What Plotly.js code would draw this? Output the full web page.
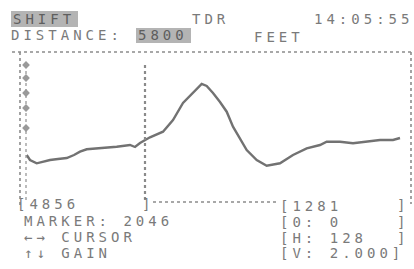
<!DOCTYPE html>
<html>
<head>
<meta charset="utf-8">
<script src="https://cdn.plot.ly/plotly-3.0.1.min.js"></script>
<style>
  html, body { margin: 0; padding: 0; background: #fff; }
  #chart { width: 414px; height: 269px; }
  .annotation-text { letter-spacing: 4px; }
</style>
</head>
<body>
<div id="chart"></div>
<script>
var sampleIdx = [6.7, 10, 16.7, 22, 30, 38, 46.7, 54, 60, 66.7, 80, 96.7, 110, 115, 120, 125, 130, 143, 153, 163, 173, 181.7, 186.7, 193, 200, 206.7, 213, 220, 226.7, 236.7, 246.7, 260, 273, 286.7, 300, 306.7, 320, 333, 346.7, 360, 373, 380];
var reflection = [47, 42, 38.7, 40, 42, 43, 44, 47, 50.3, 52.7, 53.7, 55.3, 57, 55, 59, 62, 64.7, 70.3, 82, 99, 109, 118, 116, 109, 100, 90.3, 75.3, 64, 52, 42, 36.3, 38.7, 47, 53.7, 57, 60.3, 60.3, 58.7, 60.3, 62, 62, 64];
var cursorPos = 125;
var scaleMarkX = [6, 6, 6, 6, 6];
var scaleMarkY = [137, 124, 109, 94, 74];

var headerMode = "SHIFT";
var headerTitle = "TDR";
var headerTime = "14:05:55";
var distanceLabel = "DISTANCE:";
var distanceValue = "5800";
var distanceUnit = "FEET";
var leftLines = ["[4856", "MARKER: 2046", "\u2190\u2192 CURSOR", "\u2191\u2193 GAIN"];
var rightLines = ["[1281", "[0: 0", "[H: 128", "[V: 2.000]"];

// ---- layout helpers ----
var W = 414, H = 269, ML = 20, MR = 3, MT = 52, MB = 67;
var PW = W - ML - MR, PH = H - MT - MB;
function px(x) { return (x - ML) / PW; }
function py(y) { return (H - MB - y) / PH; }

var grey = "#7a7a7a";
var fontSpec = { family: "DejaVu Sans Mono, monospace", size: 14, color: grey };

function label(text, x, y, extra) {
  var a = { text: text, xref: "paper", yref: "paper", x: px(x), y: py(y),
            xanchor: "left", yanchor: "middle", showarrow: false,
            font: fontSpec, borderpad: 0 };
  if (extra) for (var k in extra) a[k] = extra[k];
  return a;
}

var darkFont = { family: fontSpec.family, size: 14, color: "#5e5e5e" };

var annotations = [
  label(headerMode, 12, 19, { font: darkFont }),
  label(headerTitle, 191, 19),
  label(headerTime, 313, 19),
  label(distanceLabel, 10, 35),
  label(distanceValue, 137, 35, { font: darkFont }),
  label(distanceUnit, 253, 37),
  label(leftLines[0], 16, 204),
  label("]", 141, 204),
  label(leftLines[1], 23, 221),
  label(leftLines[2], 23, 237),
  label(leftLines[3], 23, 253),
  label(rightLines[0], 279, 206),
  label("]", 396, 205),
  label(rightLines[1], 279, 222),
  label("]", 396, 222),
  label(rightLines[2], 279, 238),
  label("]", 396, 238),
  label(rightLines[3], 279, 253)
];

var dotLine = { color: "#8c8c8c", width: 1.6, dash: "dot" };
var shapes = [
  // highlighted boxes
  { type: "rect", xref: "paper", yref: "paper", x0: px(11), x1: px(78), y0: py(27), y1: py(11),
    fillcolor: "#b4b4b4", line: { width: 0 }, layer: "below" },
  { type: "rect", xref: "paper", yref: "paper", x0: px(136), x1: px(191), y0: py(43), y1: py(28),
    fillcolor: "#b4b4b4", line: { width: 0 }, layer: "below" },
  // frame
  { type: "line", xref: "paper", yref: "paper", x0: px(12), x1: px(413), y0: py(52), y1: py(52), line: dotLine },
  { type: "line", xref: "paper", yref: "paper", x0: px(20), x1: px(20), y0: py(52), y1: py(205), line: dotLine },
  { type: "line", xref: "paper", yref: "paper", x0: px(411), x1: px(411), y0: py(52), y1: py(204), line: dotLine },
  { type: "line", xref: "paper", yref: "paper", x0: px(153), x1: px(276), y0: py(202), y1: py(202), line: dotLine },
  // inner scale line
  { type: "line", xref: "x", yref: "y", x0: 6, x1: 6, y0: 2, y1: 138, line: { color: "#999", width: 1.3, dash: "dot" } },
  // cursor
  { type: "line", xref: "x", yref: "y", x0: cursorPos, x1: cursorPos, y0: 2, y1: 140,
    line: { color: "#8a8a8a", width: 2.2, dash: "dot" } }
];

var traces = [
  { x: sampleIdx, y: reflection, type: "scatter", mode: "lines",
    line: { color: "#727272", width: 2.4 }, hoverinfo: "skip" },
  { x: scaleMarkX, y: scaleMarkY, type: "scatter", mode: "markers",
    marker: { symbol: "diamond", size: 6, color: "#9a9a9a" }, hoverinfo: "skip" }
];

var layout = {
  width: W, height: H,
  margin: { l: ML, r: MR, t: MT, b: MB, pad: 0 },
  paper_bgcolor: "#ffffff", plot_bgcolor: "#ffffff",
  showlegend: false,
  xaxis: { range: [0, PW], visible: false, fixedrange: true },
  yaxis: { range: [0, PH], visible: false, fixedrange: true },
  shapes: shapes,
  annotations: annotations,
  font: fontSpec
};

Plotly.newPlot("chart", traces, layout, { staticPlot: true, displayModeBar: false });
</script>
</body>
</html>
